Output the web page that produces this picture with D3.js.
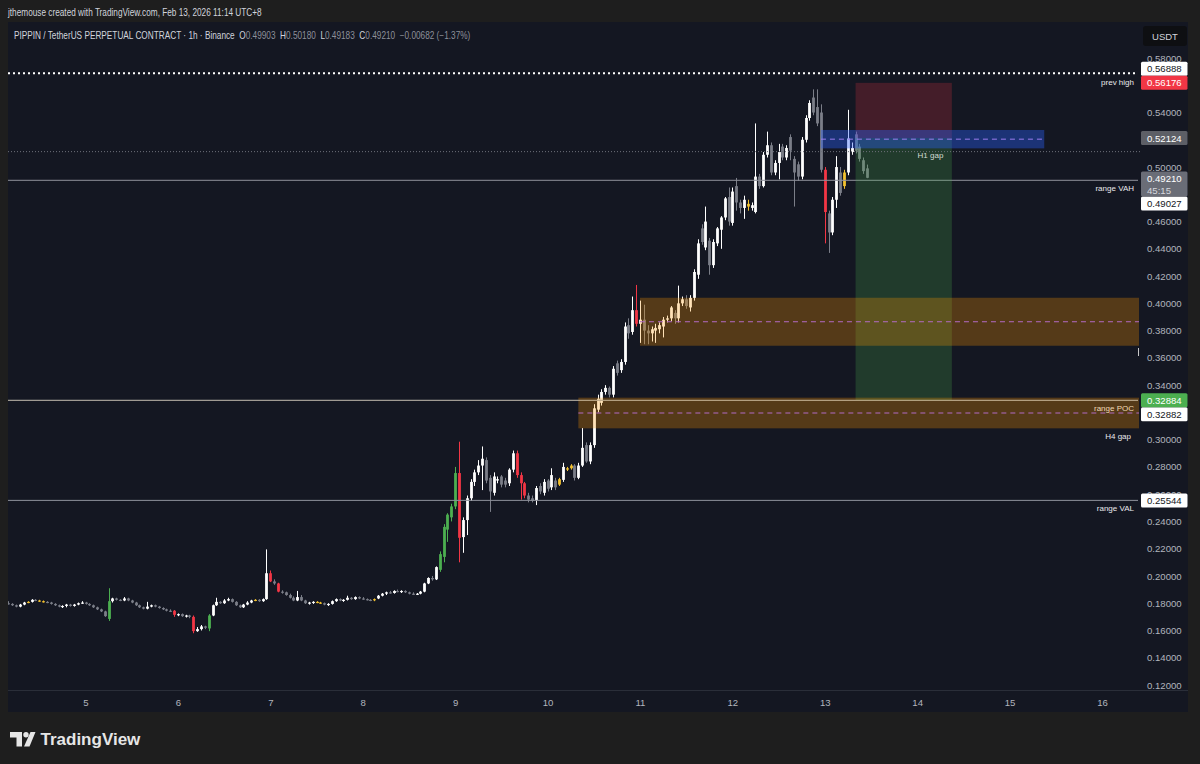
<!DOCTYPE html>
<html><head><meta charset="utf-8">
<script src="https://cdn.jsdelivr.net/npm/d3@7"></script>
<style>
html,body{margin:0;padding:0;background:#1e1e1e;}
svg{display:block;}
</style></head><body>
<svg id="c" width="1200" height="764"></svg>
<script>
// ---------------- DATA ----------------
const symbolTitle = "PIPPIN / TetherUS PERPETUAL CONTRACT · 1h · Binance";
const headerText = "jthemouse created with TradingView.com, Feb 13, 2026 11:14 UTC+8";
const ohlcLetters = ["O","H","L","C"];
const ohlcValues = ["0.49903","0.50180","0.49183","0.49210"];
const changeText = "−0.00682 (−1.37%)";
const firstBarUTC = Date.UTC(2026,1,4,4); // first hourly bar (UTC+8 wall time)

const open = [
.1800,.1795,.1785,.1775,.1790,.1805,.1810,.1825,.1820,.1815,
.1810,.1805,.1795,.1785,.1775,.1780,.1790,.1780,.1790,.1800,
.1805,.1795,.1785,.1770,.1755,.1740,.1685,.1815,.1835,.1825,
.1820,.1835,.1820,.1805,.1785,.1770,.1760,.1775,.1785,.1775,
.1765,.1755,.1745,.1745,.1715,.1720,.1705,.1710,.1700,.1595,
.1610,.1630,.1615,.1710,.1785,.1810,.1800,.1820,.1830,.1810,
.1785,.1770,.1790,.1805,.1820,.1825,.1815,.1830,.2020,.1960,
.1945,.1885,.1880,.1860,.1840,.1820,.1845,.1820,.1800,.1805,
.1810,.1805,.1800,.1790,.1795,.1815,.1830,.1820,.1825,.1840,
.1830,.1845,.1835,.1830,.1825,.1825,.1835,.1855,.1870,.1880,
.1875,.1890,.1885,.1890,.1880,.1870,.1865,.1870,.1885,.1945,
.1985,.1975,.2045,.2140,.2340,.2430,.2510,.2755,.2285,.2410,
.2570,.2690,.2760,.2810,.2850,.2720,.2610,.2700,.2730,.2700,
.2680,.2780,.2900,.2740,.2680,.2590,.2570,.2557,.2660,.2610,
.2700,.2650,.2700,.2670,.2705,.2780,.2790,.2810,.2720,.2810,
.2960,.2840,.2960,.3220,.3270,.3350,.3380,.3330,.3560,.3510,
.3570,.3840,.3790,.3950,.3850,.3880,.3800,.3780,.3800,.3810,
.3830,.3880,.3890,.3930,.3890,.4000,.4030,.3970,.4040,.4210,
.4550,.4410,.4460,.4280,.4440,.4540,.4630,.4780,.4590,.4860,
.4740,.4700,.4730,.4700,.4670,.4930,.4860,.5090,.5160,.4960,
.5030,.5150,.5070,.5220,.5060,.5020,.4930,.5200,.5360,.5510,
.5440,.5400,.4980,.4660,.4520,.4760,.4960,.4860,.4960,.5110,
.5240,.5150,.5050,.49903];
const high = [
.1815,.1800,.1790,.1795,.1810,.1815,.1830,.1830,.1825,.1820,
.1815,.1810,.1800,.1790,.1785,.1795,.1795,.1795,.1805,.1815,
.1810,.1800,.1790,.1775,.1760,.1745,.1910,.1840,.1840,.1830,
.1845,.1840,.1825,.1810,.1790,.1775,.1810,.1790,.1790,.1780,
.1770,.1760,.1755,.1750,.1725,.1725,.1715,.1715,.1710,.1625,
.1640,.1635,.1720,.1790,.1840,.1815,.1830,.1840,.1835,.1815,
.1790,.1795,.1815,.1825,.1830,.1830,.1835,.2195,.2040,.1975,
.1950,.1895,.1885,.1870,.1850,.1890,.1860,.1825,.1810,.1815,
.1815,.1810,.1805,.1800,.1820,.1835,.1835,.1830,.1855,.1845,
.1850,.1850,.1845,.1835,.1830,.1835,.1860,.1875,.1885,.1890,
.1895,.1900,.1895,.1895,.1885,.1880,.1875,.1890,.1950,.1990,
.2000,.2070,.2180,.2380,.2460,.2530,.2800,.2985,.2430,.2590,
.2710,.2780,.2850,.2950,.2870,.2740,.2760,.2730,.2740,.2720,
.2790,.2920,.2920,.2760,.2690,.2610,.2590,.2660,.2680,.2710,
.2710,.2790,.2720,.2720,.2830,.2800,.2820,.2820,.2830,.3085,
.2980,.2980,.3260,.3330,.3370,.3400,.3390,.3540,.3580,.3590,
.3860,.3890,.4050,.4135,.4020,.3990,.3840,.3830,.3850,.3860,
.3900,.3910,.3980,.3950,.4130,.4050,.4060,.4060,.4250,.4470,
.4580,.4710,.4480,.4470,.4560,.4640,.4780,.4850,.4850,.4920,
.4760,.4790,.4760,.4740,.5320,.4950,.5110,.5260,.5180,.5050,
.5170,.5170,.5160,.5240,.5080,.5040,.5220,.5380,.5490,.5570,
.5570,.5460,.5000,.4680,.4780,.5080,.5000,.4980,.5420,.5180,
.5260,.5170,.5070,.50180];
const low = [
.1790,.1780,.1770,.1770,.1785,.1800,.1805,.1815,.1810,.1805,
.1800,.1790,.1780,.1770,.1765,.1770,.1775,.1775,.1785,.1795,
.1790,.1780,.1765,.1750,.1735,.1700,.1670,.1805,.1820,.1815,
.1815,.1815,.1800,.1780,.1765,.1755,.1755,.1770,.1770,.1760,
.1750,.1740,.1735,.1700,.1705,.1700,.1695,.1690,.1580,.1590,
.1600,.1610,.1595,.1705,.1780,.1795,.1795,.1815,.1805,.1780,
.1765,.1765,.1785,.1800,.1815,.1810,.1810,.1825,.1955,.1935,
.1880,.1870,.1855,.1835,.1815,.1815,.1815,.1795,.1790,.1795,
.1800,.1795,.1785,.1780,.1790,.1810,.1815,.1810,.1820,.1825,
.1825,.1830,.1825,.1820,.1815,.1815,.1830,.1850,.1860,.1870,
.1870,.1880,.1875,.1875,.1865,.1860,.1860,.1865,.1880,.1940,
.1965,.1970,.2030,.2100,.2250,.2400,.2490,.2100,.2170,.2300,
.2550,.2660,.2740,.2630,.2680,.2470,.2590,.2680,.2650,.2650,
.2660,.2760,.2720,.2560,.2570,.2540,.2540,.2520,.2600,.2590,
.2620,.2630,.2630,.2660,.2690,.2770,.2780,.2700,.2710,.2800,
.2830,.2820,.2940,.3200,.3250,.3330,.3310,.3310,.3470,.3490,
.3550,.3740,.3770,.3830,.3710,.3700,.3700,.3720,.3710,.3780,
.3750,.3860,.3870,.3850,.3860,.3980,.3960,.3940,.4020,.4180,
.4430,.4390,.4210,.4260,.4420,.4400,.4610,.4570,.4570,.4680,
.4660,.4620,.4680,.4680,.4660,.4840,.4850,.5070,.4940,.4940,
.4910,.5050,.5050,.5050,.4710,.4900,.4910,.5180,.5340,.5380,
.5300,.4960,.4440,.4370,.4500,.4700,.4790,.4840,.4940,.5090,
.5100,.5040,.4950,.49183];
const close = [
.1795,.1785,.1775,.1790,.1805,.1810,.1825,.1820,.1815,.1810,
.1805,.1795,.1785,.1775,.1780,.1790,.1780,.1790,.1800,.1805,
.1795,.1785,.1770,.1755,.1740,.1705,.1815,.1835,.1825,.1820,
.1835,.1820,.1805,.1785,.1770,.1760,.1775,.1785,.1775,.1765,
.1755,.1745,.1740,.1715,.1720,.1705,.1710,.1700,.1595,.1610,
.1630,.1620,.1710,.1785,.1810,.1800,.1820,.1830,.1810,.1785,
.1770,.1790,.1805,.1820,.1825,.1815,.1830,.2020,.1960,.1945,
.1885,.1880,.1860,.1840,.1820,.1845,.1820,.1800,.1805,.1810,
.1805,.1800,.1790,.1795,.1815,.1830,.1820,.1825,.1840,.1830,
.1845,.1835,.1830,.1825,.1820,.1830,.1855,.1870,.1880,.1875,
.1890,.1885,.1890,.1880,.1870,.1865,.1870,.1885,.1945,.1985,
.1975,.2065,.2160,.2360,.2450,.2510,.2755,.2280,.2410,.2570,
.2690,.2760,.2810,.2860,.2700,.2620,.2730,.2710,.2670,.2670,
.2780,.2900,.2740,.2680,.2590,.2560,.2550,.2645,.2620,.2690,
.2640,.2740,.2650,.2710,.2800,.2790,.2810,.2720,.2810,.2940,
.2840,.2960,.3230,.3300,.3350,.3380,.3330,.3520,.3490,.3570,
.3830,.3780,.3950,.3850,.3880,.3800,.3780,.3810,.3820,.3840,
.3880,.3890,.3970,.3890,.4000,.4030,.3980,.4040,.4230,.4440,
.4450,.4600,.4280,.4450,.4550,.4630,.4770,.4600,.4820,.4740,
.4700,.4760,.4710,.4720,.4930,.4860,.5090,.5160,.4960,.5030,
.5110,.5070,.5140,.5120,.4960,.4930,.5200,.5360,.5470,.5400,
.5320,.4980,.4670,.4520,.4760,.5000,.4810,.4960,.5210,.5140,
.5120,.5060,.4970,.49210];
// highlighted bars (index of hourly bar)
const greenBars  = [26,52,112,113,114,115,116];
const redBars    = [43,48,68,70,117,132,133,134,163,212];
const yellowBars = [5,8,9,64,80,81,95,143,145,146,192,217];

const dayTicks = [5,6,7,8,9,10,11,12,13,14,15,16];
const priceTicks = [0.12,0.14,0.16,0.18,0.20,0.22,0.24,0.26,0.28,0.30,0.32,0.34,0.36,0.38,0.40,0.42,0.44,0.46,0.48,0.50,0.52,0.54,0.56,0.58];

// horizontal levels
const levelNames  = ["prev high","range VAH","range POC","range VAL"];
const levelPrices = [0.56888, 0.49027, 0.32884, 0.25544];
const levelStyles = ["dotted","solid","solid","solid"];
const priceLineDotted = 0.5113;

// zones [bottom, top, start (UTC+8 wall time), end or null for extend right]
const zoneNames   = ["H4 gap","zone 1h","H1 gap"];
const zoneBottoms = [0.3083, 0.3689, 0.5137];
const zoneTops    = [0.3308, 0.4041, 0.5272];
const zoneStarts  = [Date.UTC(2026,1,10,8), Date.UTC(2026,1,11,0), Date.UTC(2026,1,12,23)];
const zoneEnds    = [null, null, Date.UTC(2026,1,15,9)];
const zoneKinds   = ["orange","orange","blue"];

// short position
const posEntry = 0.52124, posStop = 0.56176, posTarget = 0.32884;
const posStart = Date.UTC(2026,1,13,8), posEnd = Date.UTC(2026,1,14,9);

// price scale labels
const axisLabelPrices = [0.56888, 0.56176, 0.52124, 0.49210, 0.49027, 0.32884, 0.32882, 0.25544];
const axisLabelKinds  = ["white","red","gray","last","white","green","white","white"];
const countdown = "45:15";

// ---------------- DRAW ----------------
const HOUR = 3600000;
const NB = "\u00a0";
const svg = d3.select("#c");
const FONT = "'Liberation Sans', Arial, sans-serif";
const plot = {x0:8, x1:1140, y0:48, y1:690};

svg.append("rect").attr("width",1200).attr("height",764).attr("fill","#1e1e1e");
svg.append("rect").attr("x",8).attr("y",22).attr("width",1180).attr("height",690).attr("fill","#141722");
svg.append("line").attr("x1",8).attr("x2",1188).attr("y1",690.5).attr("y2",690.5).attr("stroke","#2a2e39");

const x = d3.scaleUtc().domain([new Date(Date.UTC(2026,1,5)), new Date(Date.UTC(2026,1,16))]).range([85.5,1102]);
const y = d3.scaleLinear().domain([0.12,0.58]).range([685,58]);

svg.append("clipPath").attr("id","pc").append("rect")
  .attr("x",plot.x0).attr("y",plot.y0).attr("width",plot.x1-plot.x0).attr("height",plot.y1-plot.y0);
const g = svg.append("g").attr("clip-path","url(#pc)");

const bars = open.map((o,i)=>({i, t:new Date(firstBarUTC+i*HOUR), o, h:high[i], l:low[i], c:close[i]}));
function barColor(d){
  if (greenBars.includes(d.i)) return "#4caf50";
  if (redBars.includes(d.i)) return "#f23645";
  if (yellowBars.includes(d.i)) return "#f2c12e";
  return d.c >= d.o ? "#ffffff" : "#7b7e88";
}
g.selectAll("line.wick").data(bars).join("line").attr("class","wick")
  .attr("x1",d=>Math.round(x(d.t))+0.5).attr("x2",d=>Math.round(x(d.t))+0.5)
  .attr("y1",d=>y(d.h)).attr("y2",d=>y(d.l)).attr("stroke",barColor).attr("stroke-width",1);
g.selectAll("rect.body").data(bars).join("rect").attr("class","body")
  .attr("x",d=>Math.round(x(d.t))-0.9).attr("width",2.8)
  .attr("y",d=>y(Math.max(d.o,d.c)))
  .attr("height",d=>Math.max(1.2,Math.abs(y(d.o)-y(d.c))))
  .attr("fill",barColor);

// range lines (under overlays)
levelPrices.forEach((p,k)=>{
  if (levelStyles[k]==="solid"){
    g.append("line").attr("x1",plot.x0).attr("x2",1138).attr("y1",y(p)).attr("y2",y(p))
     .attr("stroke","#8f929b").attr("stroke-width",1);
  }
});

// position boxes
const px0 = x(new Date(posStart)), px1 = x(new Date(posEnd));
g.append("rect").attr("x",px0).attr("width",px1-px0)
  .attr("y",y(posStop)).attr("height",y(posEntry)-y(posStop)).attr("fill","rgba(242,54,69,0.22)");
g.append("rect").attr("x",px0).attr("width",px1-px0)
  .attr("y",y(posEntry)).attr("height",y(posTarget)-y(posEntry)).attr("fill","rgba(76,175,80,0.24)");

// zones
zoneNames.forEach((nm,k)=>{
  const x0 = x(new Date(zoneStarts[k]));
  const x1 = zoneEnds[k] ? x(new Date(zoneEnds[k])) : 1139;
  const fill = zoneKinds[k]==="orange" ? "rgba(255,152,0,0.28)" : "rgba(41,98,255,0.38)";
  g.append("rect").attr("x",x0).attr("width",x1-x0).attr("y",y(zoneTops[k]))
   .attr("height",y(zoneBottoms[k])-y(zoneTops[k])).attr("fill",fill);
  const mid = (zoneTops[k]+zoneBottoms[k])/2;
  g.append("line").attr("x1",x0).attr("x2",x1).attr("y1",y(mid)).attr("y2",y(mid))
   .attr("stroke", zoneKinds[k]==="orange" ? "#b26ac4" : "#9b7df0")
   .attr("stroke-width",1).attr("stroke-dasharray","5,4");
});

// POC line highlight on top
g.append("line").attr("x1",plot.x0).attr("x2",1138).attr("y1",y(levelPrices[2])).attr("y2",y(levelPrices[2]))
  .attr("stroke","#c9bca3").attr("stroke-width",1).attr("opacity",0.6);

// dotted lines
g.append("line").attr("x1",plot.x0).attr("x2",1140).attr("y1",y(priceLineDotted)).attr("y2",y(priceLineDotted))
  .attr("stroke","#6f727c").attr("stroke-width",1).attr("stroke-dasharray","1,2");
g.append("line").attr("x1",plot.x0).attr("x2",1138).attr("y1",y(levelPrices[0])).attr("y2",y(levelPrices[0]))
  .attr("stroke","#ffffff").attr("stroke-width",2).attr("stroke-dasharray","2,3");

// level text labels
const lblY = [y(levelPrices[0])+9, y(levelPrices[1])+8, y(levelPrices[2])+8, y(levelPrices[3])+8];
levelNames.forEach((nm,k)=>{
  svg.append("text").attr("x",1134).attr("y",lblY[k]).attr("text-anchor","end")
    .attr("dominant-baseline","central").attr("font-family",FONT).attr("font-size",8)
    .attr("fill", k===2 ? "#f1d9b4" : "#e9e9ec").text(nm);
});
svg.append("text").attr("x",1131).attr("y",y(zoneBottoms[0])+8.5).attr("text-anchor","end")
  .attr("dominant-baseline","central").attr("font-family",FONT).attr("font-size",8)
  .attr("fill","#e9e9ec").text(zoneNames[0]);
svg.append("text").attr("x",930.5).attr("y",y(zoneBottoms[2])+7.5).attr("text-anchor","middle")
  .attr("dominant-baseline","central").attr("font-family",FONT).attr("font-size",8)
  .attr("fill","#d3dcd5").text(zoneNames[2]);
// small anchor mark
svg.append("line").attr("x1",1138.5).attr("x2",1138.5).attr("y1",348).attr("y2",356).attr("stroke","#c8c8c8");

// price labels with simple collision handling (computed before the axis so covered ticks can be hidden)
const fixedKinds = ["red","last","green"];
const LH = 14;
const placed = [];
const labels = axisLabelPrices.map((p,k)=>({p, kind:axisLabelKinds[k], yc:y(p)}));
labels.filter(l=>fixedKinds.includes(l.kind)).forEach(l=>{
  if (l.kind==="last"){ l.top = l.yc-6.3; l.bot = l.yc+18.7; }
  else { l.top = l.yc-LH/2; l.bot = l.yc+LH/2; }
  placed.push(l);
});
labels.filter(l=>!fixedKinds.includes(l.kind)).forEach(l=>{
  l.top = l.yc-LH/2; l.bot = l.yc+LH/2;
  placed.forEach(f=>{
    if (l.bot>f.top && l.top<f.bot){
      if (l.yc < f.yc - 0.01){ l.bot = f.top; l.top = l.bot-LH; }
      else { l.top = f.bot; l.bot = l.top+LH; }
    }
  });
  placed.push(l);
});

// axes
const yAxis = d3.axisRight(y).tickValues(priceTicks).tickFormat(d=>d.toFixed(5)).tickSize(0).tickPadding(0);
const ya = svg.append("g").attr("transform","translate(1147,0)").call(yAxis);
ya.select(".domain").remove();
ya.selectAll("text").attr("font-family",FONT).attr("font-size",9.6).attr("fill","#b2b5be");
// ticks completely hidden behind a price label are dropped
ya.selectAll(".tick").filter(d=>labels.some(l=>y(d)>l.top+2 && y(d)<l.bot-2)).remove();
// a tick peeking out above a label: show only its visible top part (clip in the tick's local coords)
labels.forEach((l,k)=>{
  ya.selectAll(".tick").filter(d=>Math.abs(y(d)-l.top)<=2).each(function(d){
    const id = "tc"+k;
    const visH = l.top - y(d);
    svg.append("clipPath").attr("id",id).append("rect").attr("x",-5).attr("y",-20).attr("width",60).attr("height",20+visH);
    d3.select(this).attr("clip-path",`url(#${id})`);
  });
});

const xAxis = d3.axisBottom(x).tickValues(dayTicks.map(d=>new Date(Date.UTC(2026,1,d))))
  .tickFormat(d3.utcFormat("%-d")).tickSize(0).tickPadding(0);
const xa = svg.append("g").attr("transform","translate(0,699.5)").call(xAxis);
xa.select(".domain").remove();
xa.selectAll("text").attr("font-family",FONT).attr("font-size",9.6).attr("fill","#b2b5be");

const styleOf = {white:["#ffffff","#131722"], red:["#f23645","#ffffff"], gray:["#5d5f66","#ffffff"],
                 last:["#6a6d77","#ffffff"], green:["#4caf50","#ffffff"]};
const drawOrder = ["gray","white","green","red","last"];
labels.slice().sort((a,b)=>drawOrder.indexOf(a.kind)-drawOrder.indexOf(b.kind)).forEach(l=>{
  const [bg,fg] = styleOf[l.kind];
  svg.append("rect").attr("x",1141).attr("y",l.top).attr("width",46.5).attr("height",l.bot-l.top)
    .attr("rx",1.5).attr("fill",bg);
  const ty = l.kind==="last" ? l.yc+0.8 : (l.top+l.bot)/2;
  svg.append("text").attr("x",1147).attr("y",ty).attr("dominant-baseline","central")
    .attr("font-family",FONT).attr("font-size",9.6).attr("fill",fg).text(l.p.toFixed(5));
  if (l.kind==="last"){
    svg.append("text").attr("x",1147).attr("y",l.yc+12.5).attr("dominant-baseline","central")
      .attr("font-family",FONT).attr("font-size",9.6).attr("fill","#d6d8de").text(countdown);
  }
});

// USDT box
svg.append("rect").attr("x",1143).attr("y",26).attr("width",44).attr("height",20).attr("rx",3).attr("fill","#0e0f12");
svg.append("text").attr("x",1165).attr("y",36.5).attr("text-anchor","middle").attr("dominant-baseline","central")
  .attr("font-family",FONT).attr("font-size",9.5).attr("fill","#d1d4dc").text("USDT");

// header texts (horizontally condensed to match the snapshot's narrow UI font)
function condensed(tx, ty, targetW){
  const grp = svg.append("g").attr("transform",`translate(${tx},${ty})`);
  const t = grp.append("text").attr("x",0).attr("y",0).attr("dominant-baseline","central")
    .attr("font-family",FONT).attr("font-size",10).attr("fill","#d1d4dc");
  return {grp, t, fit(){ const w = t.node().getComputedTextLength(); grp.attr("transform",`translate(${tx},${ty}) scale(${targetW/w},1)`); }};
}
const hdr = condensed(8, 13, 254);
hdr.t.text(headerText); hdr.fit();

const ttl = condensed(14, 35.5, 457);
ttl.t.append("tspan").text(symbolTitle + NB + NB);
ohlcLetters.forEach((L,k)=>{
  ttl.t.append("tspan").attr("fill","#d1d4dc").text(L);
  ttl.t.append("tspan").attr("fill","#8d909a").text(ohlcValues[k] + NB + NB);
});
ttl.t.append("tspan").attr("fill","#8d909a").text(changeText);
ttl.fit();

// TradingView logo
const lg = svg.append("g").attr("fill","#e6e6e6");
lg.append("path").attr("d","M10,732 H22 V746.5 H16.5 V737.5 H10 Z");
lg.append("circle").attr("cx",26).attr("cy",734.8).attr("r",2.7);
lg.append("path").attr("d","M30.5,732 H35.5 L29.5,746.5 H24 Z");
svg.append("text").attr("x",40.5).attr("y",745).attr("font-family",FONT).attr("font-weight","bold")
  .attr("font-size",17).attr("fill","#e6e6e6").text("TradingView");
</script>
</body></html>
